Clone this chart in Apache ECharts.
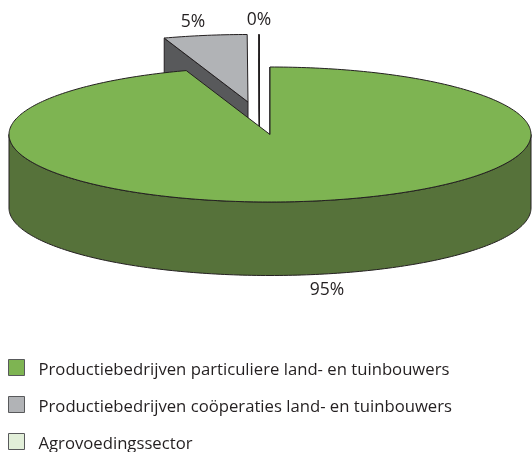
<!DOCTYPE html>
<html>
<head>
<meta charset="utf-8">
<style>html,body{margin:0;padding:0;background:#fff}#c{width:532px;height:452px}</style>
<script src="https://cdn.jsdelivr.net/npm/echarts@6/dist/echarts.min.js"></script>
</head>
<body>
<div id="c"></div>
<script>
const categories = [
  'Productiebedrijven particuliere land- en tuinbouwers',
  'Productiebedrijven coöperaties land- en tuinbouwers',
  'Agrovoedingssector'
];
const values = [94.8, 5.15, 0.05];
const valueLabels = ['95%', '5%', '0%'];
const topColors = ['#7EB452', '#B1B3B6', '#FFFFFF'];
const sideColors = ['#56723A', '#58595B', '#FFFFFF'];
const legendColors = ['#7EB452', '#B1B3B6', '#E2EFD9'];
const centers = [[270, 134.5], [248, 102], [259.5, 102]];
const labelPositions = [[327, 290], [193, 22], [259, 20]];
const legendTops = [359, 396, 433];
const drawOrder = [3, 2, 1];
const RX = 261, RY = 67.5, DEPTH = 73.5;
const INK = '#231F20';
const FONT = '"Open Sans","Noto Sans",sans-serif';

const total = values.reduce((a, b) => a + b, 0);
function startOf(i) {
  let s = 0;
  for (let k = 0; k < i; k++) s += values[k];
  return s / total * 360;
}
function pt(c, deg, dy) {
  const r = deg * Math.PI / 180;
  return [c[0] + RX * Math.sin(r), c[1] - RY * Math.cos(r) + (dy || 0)];
}
function arc(c, a, b, dy) {
  const out = [];
  const n = Math.max(2, Math.ceil(Math.abs(b - a)));
  for (let i = 0; i <= n; i++) out.push(pt(c, a + (b - a) * i / n, dy));
  return out;
}
function renderSlice(params, api) {
  const i = params.seriesIndex;
  const c = centers[i];
  const a = startOf(i);
  const b = a + api.value(0) / total * 360;
  const stroke = { stroke: INK, lineWidth: 1, lineJoin: 'miter' };
  const children = [];
  // cut face of the wedge that looks toward the viewer
  const e = pt(c, a, 0);
  children.push({
    type: 'polygon',
    shape: { points: [e, c, [c[0], c[1] + DEPTH], [e[0], e[1] + DEPTH]] },
    style: Object.assign({ fill: sideColors[i] }, stroke)
  });
  // outer wall: the part of the rim facing the viewer
  const wa = Math.max(a, 90), wb = Math.min(b, 270);
  if (wb > wa) {
    children.push({
      type: 'polygon',
      shape: { points: arc(c, wa, wb, 0).concat(arc(c, wb, wa, DEPTH)) },
      style: Object.assign({ fill: sideColors[i] }, stroke)
    });
  }
  // top face
  children.push({
    type: 'polygon',
    shape: { points: [c].concat(arc(c, a, b, 0)) },
    style: Object.assign({ fill: topColors[i] }, stroke)
  });
  children.push({
    type: 'text',
    style: {
      x: labelPositions[i][0], y: labelPositions[i][1],
      text: valueLabels[i], fill: INK,
      font: '17.5px ' + FONT, align: 'center', verticalAlign: 'middle'
    }
  });
  return { type: 'group', children };
}

const chart = echarts.init(document.getElementById('c'), null, { renderer: 'canvas' });
chart.setOption({
  animation: false,
  color: legendColors,
  legend: categories.map((name, i) => ({
    orient: 'vertical', left: 8, top: legendTops[i], padding: 0,
    itemWidth: 16, itemHeight: 16,
    selectedMode: false,
    icon: 'rect',
    data: [name],
    formatter: n => '{t|' + n + '}',
    itemStyle: { borderColor: '#58595B', borderWidth: 1 },
    textStyle: {
      color: INK, fontFamily: FONT, fontSize: 16.7,
      rich: { t: { color: INK, fontFamily: FONT, fontSize: 16.7, padding: [6, 0, 0, 9] } }
    }
  })),
  series: categories.map((name, i) => ({
    type: 'custom',
    name,
    coordinateSystem: 'none',
    z: drawOrder[i],
    silent: true,
    clip: false,
    itemStyle: { color: legendColors[i] },
    renderItem: renderSlice,
    data: [values[i]]
  }))
});
</script>
</body>
</html>
